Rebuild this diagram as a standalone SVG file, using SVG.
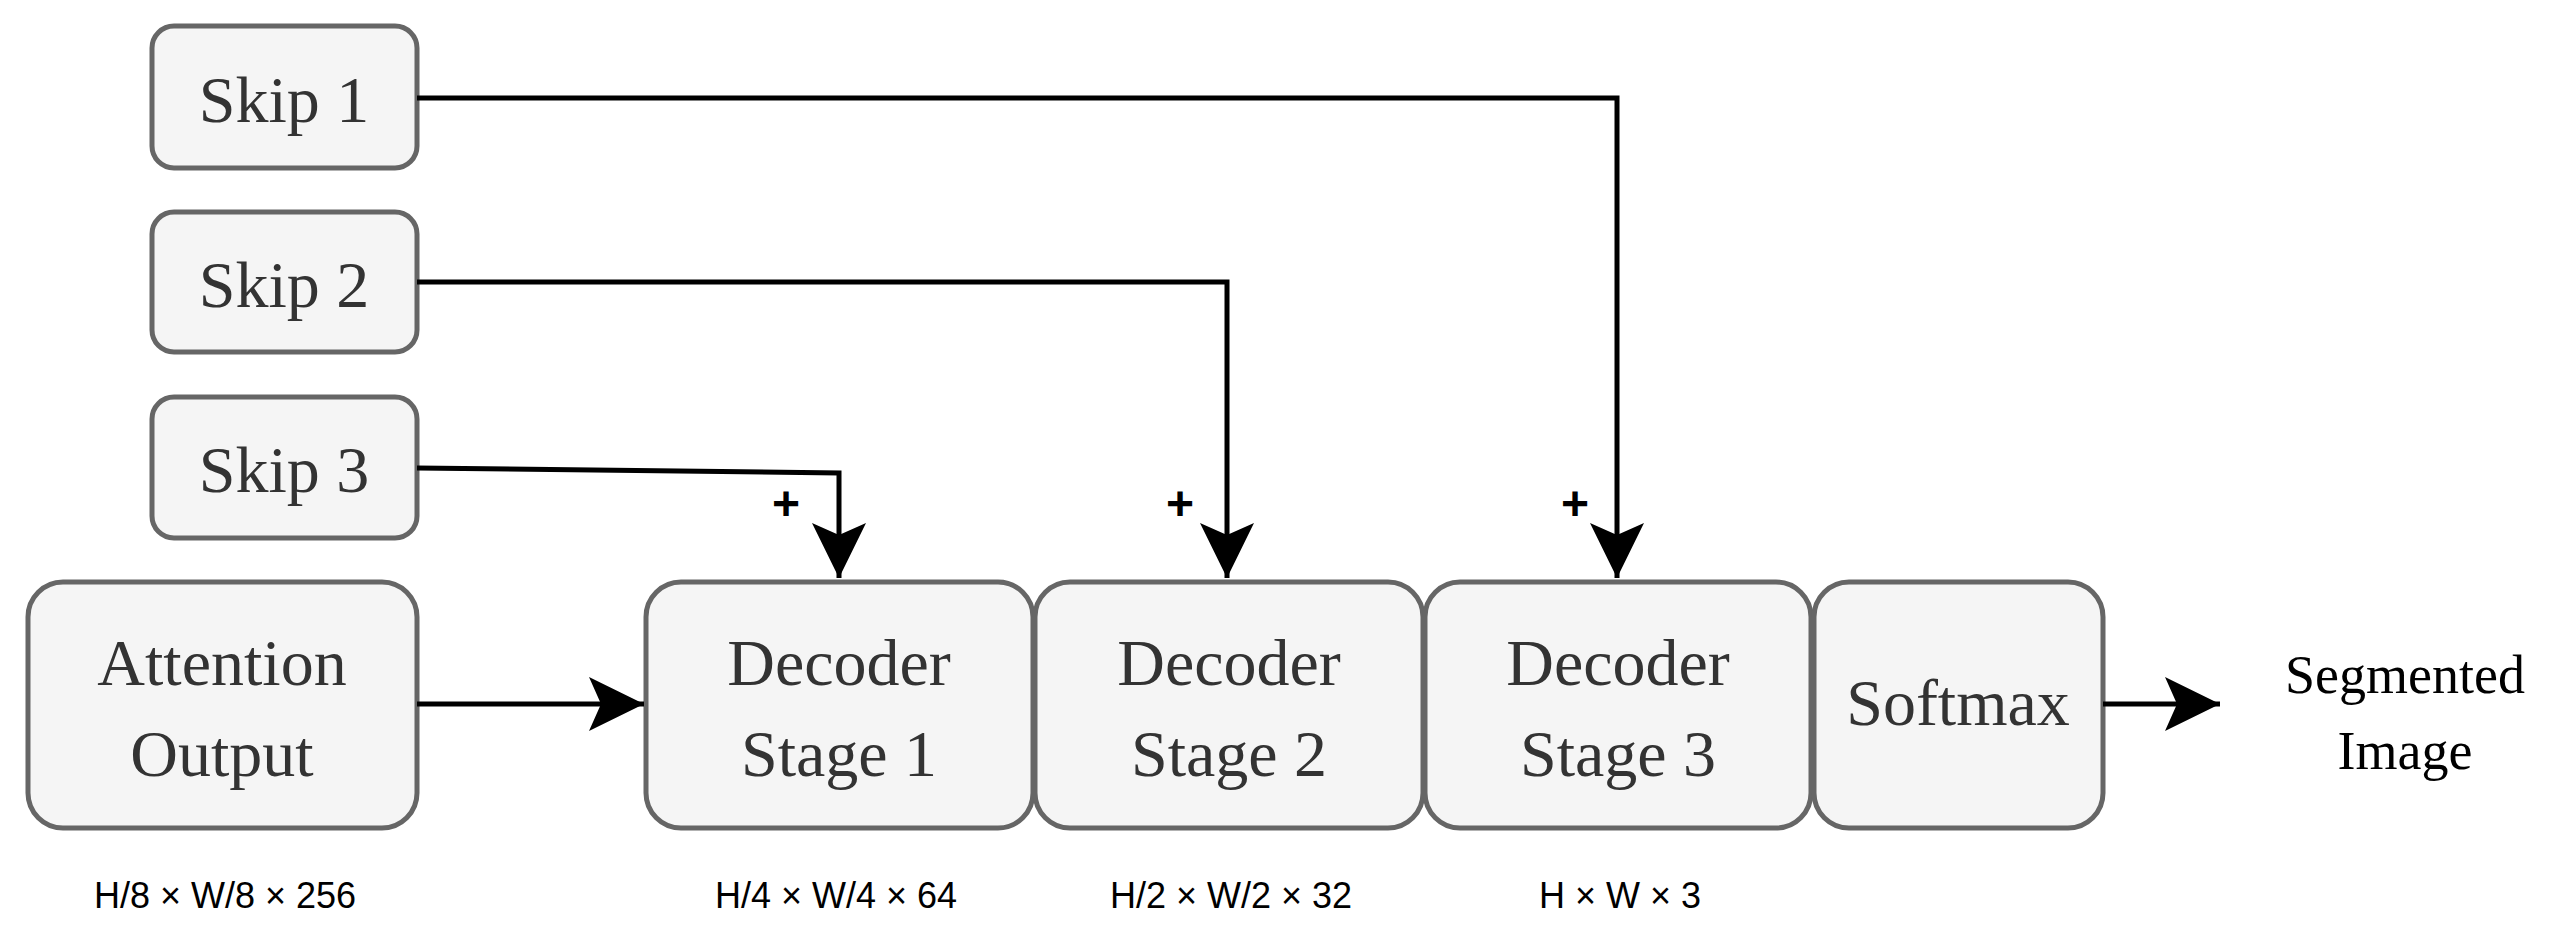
<svg xmlns="http://www.w3.org/2000/svg" width="2556" height="933" viewBox="0 0 2556 933">
<style>
.box{fill:#f5f5f5;stroke:#666;stroke-width:5}
.t{font-family:"Liberation Serif",serif;font-size:66px;fill:#333;text-anchor:middle}
.d{font-family:"Liberation Sans",Arial,sans-serif;font-size:36px;fill:#000;text-anchor:middle}
.p{font-family:"Liberation Sans",Arial,sans-serif;font-size:48px;font-weight:bold;fill:#000;text-anchor:middle}
.c{fill:none;stroke:#000;stroke-width:5}
</style>
<defs>
<marker id="ah" markerUnits="userSpaceOnUse" markerWidth="60" markerHeight="60" viewBox="0 0 60 60" refX="55" refY="30" orient="auto">
<path d="M0,3 L55,30 L0,57 L12,30 Z" fill="#000"/>
</marker>
</defs>
<rect width="2556" height="933" fill="#fff"/>
<g id="skip1"><rect class="box" x="152" y="26" width="265" height="142" rx="22"/><text class="t" x="284" y="122">Skip 1</text></g>
<g id="skip2"><rect class="box" x="152" y="212" width="265" height="140" rx="22"/><text class="t" x="284" y="307">Skip 2</text></g>
<g id="skip3"><rect class="box" x="152" y="397" width="265" height="141" rx="22"/><text class="t" x="284" y="492">Skip 3</text></g>
<g id="attention"><rect class="box" x="28" y="582" width="389" height="246" rx="35"/><text class="t" x="222" y="685">Attention</text><text class="t" x="222" y="776">Output</text></g>
<g id="dec1"><rect class="box" x="646" y="582" width="387" height="246" rx="35"/><text class="t" x="839" y="685">Decoder</text><text class="t" x="839" y="776">Stage 1</text></g>
<g id="dec2"><rect class="box" x="1035" y="582" width="388" height="246" rx="35"/><text class="t" x="1229" y="685">Decoder</text><text class="t" x="1229" y="776">Stage 2</text></g>
<g id="dec3"><rect class="box" x="1425" y="582" width="386" height="246" rx="35"/><text class="t" x="1618" y="685">Decoder</text><text class="t" x="1618" y="776">Stage 3</text></g>
<g id="softmax"><rect class="box" x="1814" y="582" width="289" height="246" rx="35"/><text class="t" x="1958" y="725">Softmax</text></g>
<g id="output"><text class="t" x="2405" y="693" style="font-size:54px;fill:#000">Segmented</text><text class="t" x="2405" y="769" style="font-size:54px;fill:#000">Image</text></g>
<g id="connectors">
<path class="c" d="M417,98 H1617 V578" marker-end="url(#ah)"/>
<path class="c" d="M417,282 H1227 V578" marker-end="url(#ah)"/>
<path class="c" d="M417,468 L839,473 V578" marker-end="url(#ah)"/>
<path class="c" d="M417,704 H644" marker-end="url(#ah)"/>
<path class="c" d="M2103,704 H2220" marker-end="url(#ah)"/>
</g>
<g id="plus"><text class="p" x="786" y="520">+</text><text class="p" x="1180" y="520">+</text><text class="p" x="1575" y="520">+</text></g>
<g id="dims">
<text class="d" x="225" y="908">H/8 × W/8 × 256</text>
<text class="d" x="836" y="908">H/4 × W/4 × 64</text>
<text class="d" x="1231" y="908">H/2 × W/2 × 32</text>
<text class="d" x="1620" y="908">H × W × 3</text>
</g>
</svg>
